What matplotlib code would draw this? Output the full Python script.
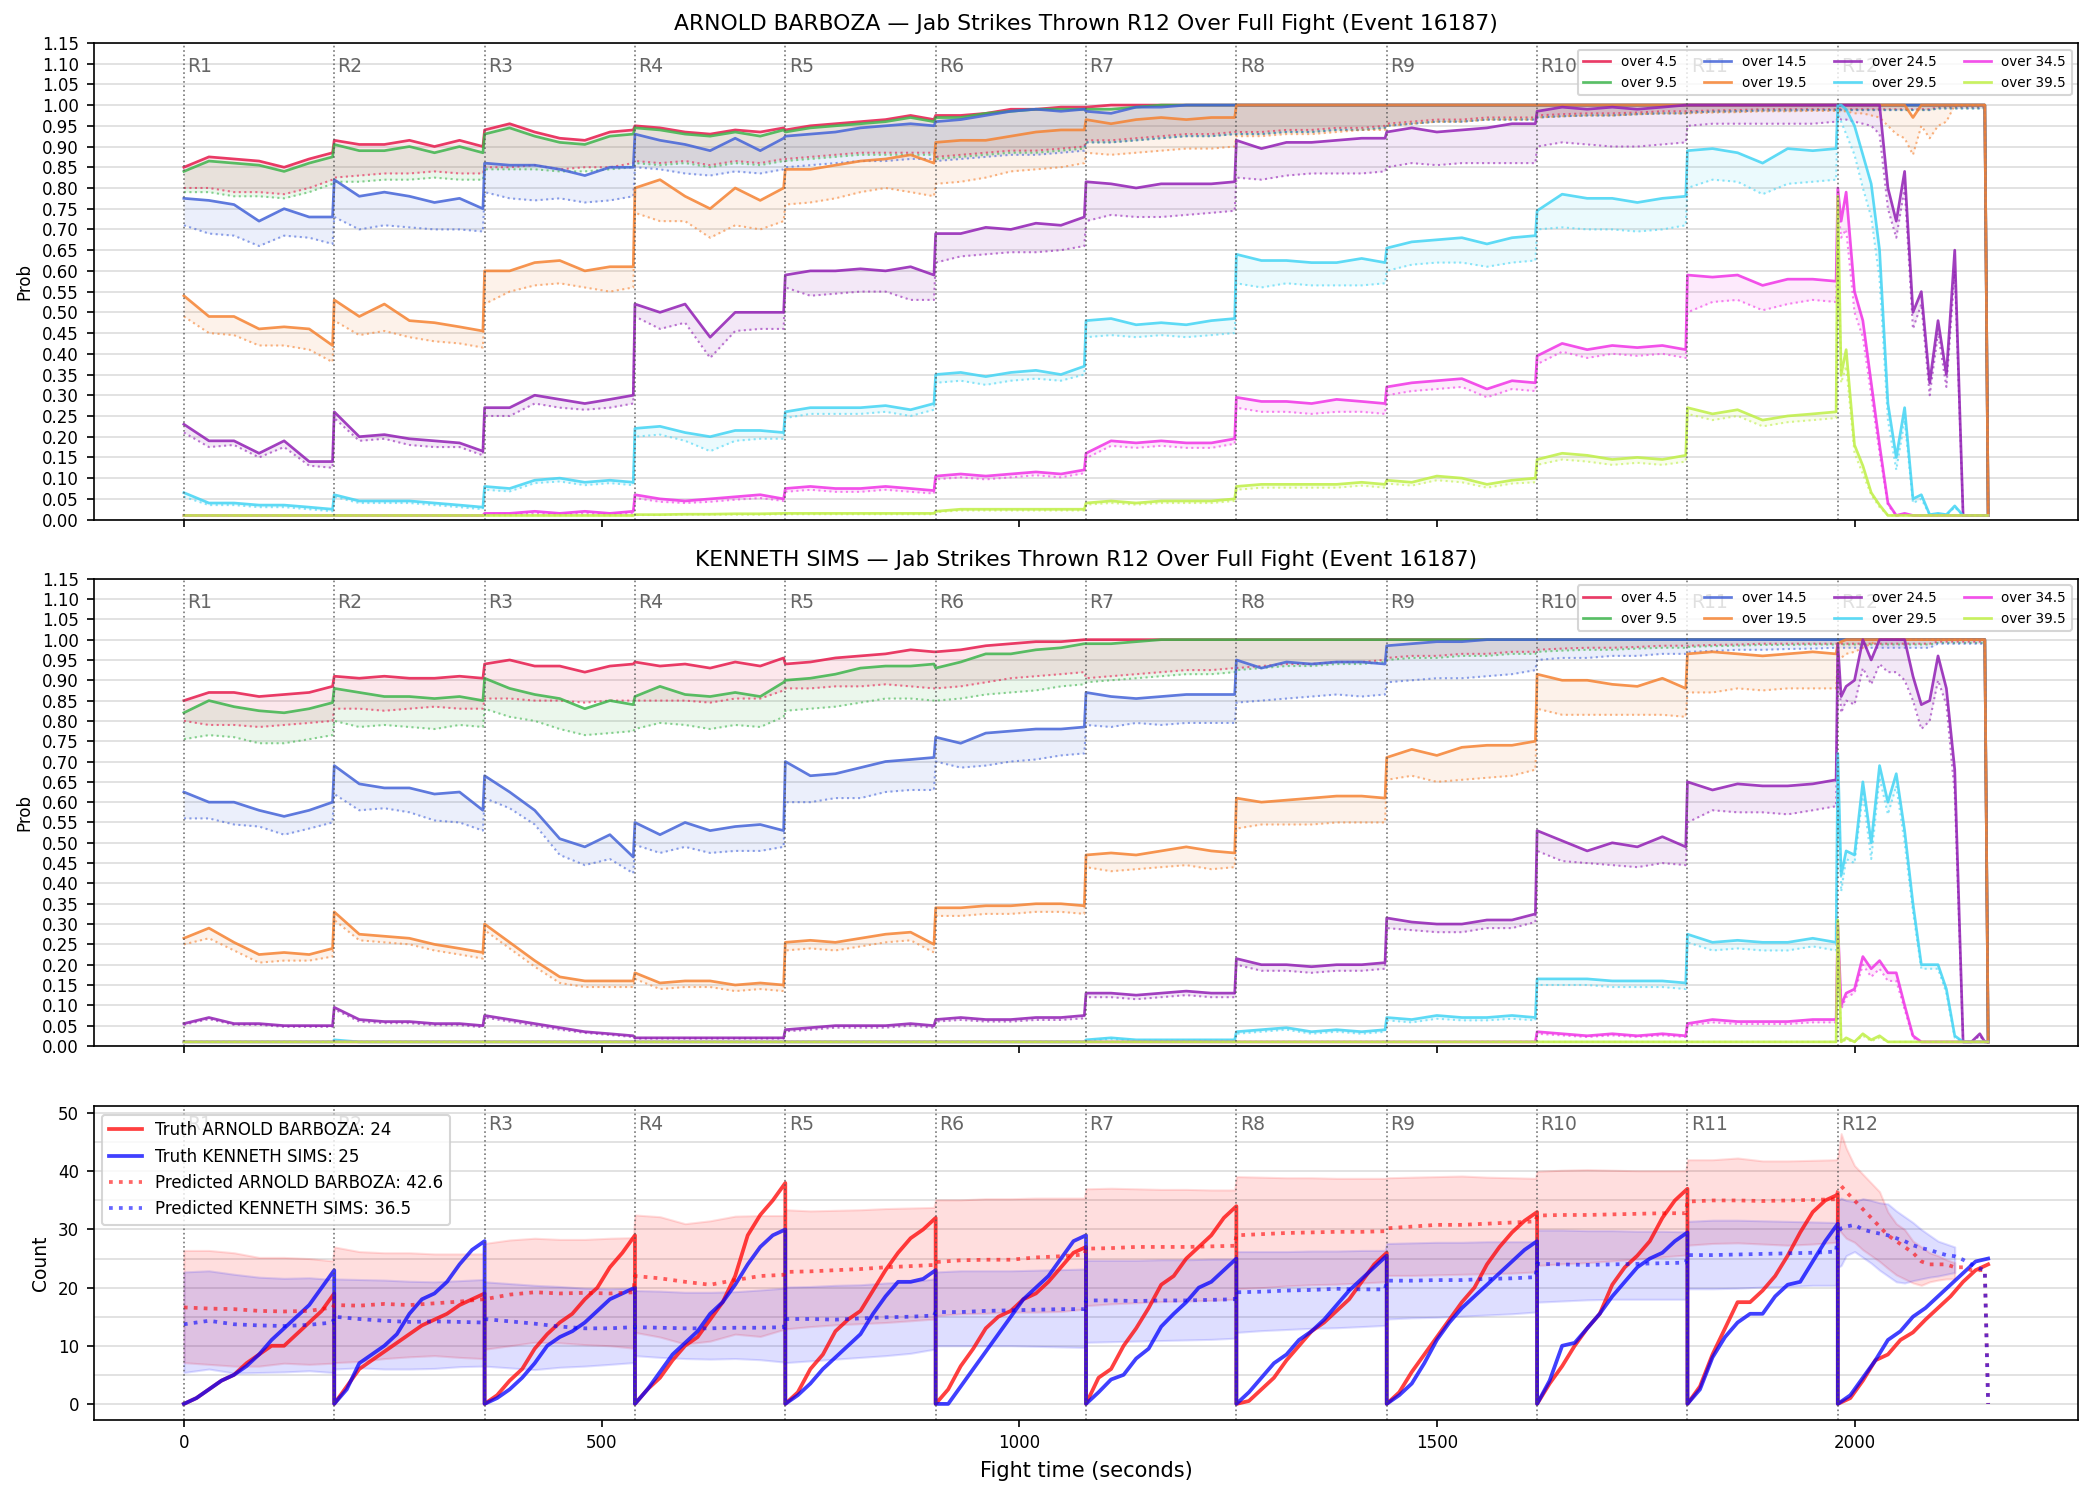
import numpy as np
import matplotlib
matplotlib.use("Agg")
import matplotlib.pyplot as plt
from matplotlib.ticker import MultipleLocator, FormatStrFormatter

# ---------------- time grids ----------------
ROUND_LEN = 180
N_ROUNDS = 12
ROUND_OFFSETS = [0, 30, 60, 90, 120, 150, 178]                # rounds 1-11
R12_OFFSETS = [0, 4, 10, 20, 30, 40, 50, 60, 70, 80, 90, 100, 110,
               120, 130, 140, 150, 160, 170, 176, 180]         # round 12
TRUTH_OFFSETS = [0, 15, 30, 45, 60, 75, 90, 105, 120, 135, 150, 165, 180]

THRESH_LABELS = ["over 4.5", "over 9.5", "over 14.5", "over 19.5",
                 "over 24.5", "over 29.5", "over 34.5", "over 39.5"]
THRESH_COLORS = ["#e6194b", "#3cb44b", "#4363d8", "#f58231",
                 "#911eb4", "#42d4f4", "#f032e6", "#bfef45"]

FIGHTER_A = "ARNOLD BARBOZA"
FIGHTER_B = "KENNETH SIMS"
EVENT_ID = 16187
TRUTH_A_FINAL = 24
TRUTH_B_FINAL = 25
PRED_A_FINAL = 42.6
PRED_B_FINAL = 36.5

ONE = [1.0] * 7
LOW = [0.01] * 7

# ---------------- ARNOLD BARBOZA: P(over) solid / dotted ----------------
ab_o45 = ([0.85, 0.875, 0.87, 0.865, 0.85, 0.87, 0.885,
           0.915, 0.905, 0.905, 0.915, 0.90, 0.915, 0.90,
           0.94, 0.955, 0.935, 0.92, 0.915, 0.935, 0.94,
           0.95, 0.945, 0.935, 0.93, 0.94, 0.935, 0.945,
           0.94, 0.95, 0.955, 0.96, 0.965, 0.975, 0.965,
           0.975, 0.975, 0.98, 0.99, 0.99, 0.995, 0.995,
           0.995, 1.0, 1.0, 1.0, 1.0, 1.0, 1.0]
          + ONE * 4 + [1.0] * 20 + [0.01])
ab_o45_d = [0.80, 0.80, 0.79, 0.79, 0.785, 0.80, 0.82,
            0.825, 0.83, 0.835, 0.835, 0.84, 0.835, 0.835,
            0.85, 0.85, 0.855, 0.845, 0.85, 0.85, 0.86,
            0.865, 0.86, 0.865, 0.855, 0.865, 0.86, 0.87,
            0.87, 0.875, 0.88, 0.885, 0.885, 0.885, 0.885,
            0.875, 0.88, 0.885, 0.89, 0.89, 0.895, 0.90,
            0.915, 0.915, 0.92, 0.925, 0.93, 0.93, 0.935,
            0.935, 0.935, 0.94, 0.94, 0.945, 0.945, 0.95,
            0.955, 0.96, 0.965, 0.965, 0.97, 0.97, 0.97,
            0.975, 0.978, 0.98, 0.98, 0.982, 0.985, 0.985,
            0.985, 0.987, 0.988, 0.99, 0.99, 0.99, 0.99] + [0.99] * 13 + [0.995] * 7 + [0.01]

ab_o95 = ([0.84, 0.865, 0.86, 0.855, 0.84, 0.86, 0.875,
           0.905, 0.89, 0.89, 0.90, 0.885, 0.90, 0.885,
           0.93, 0.945, 0.925, 0.91, 0.905, 0.925, 0.93,
           0.945, 0.94, 0.93, 0.925, 0.935, 0.925, 0.94,
           0.935, 0.945, 0.95, 0.955, 0.96, 0.97, 0.96,
           0.97, 0.97, 0.98, 0.985, 0.99, 0.99, 0.99,
           0.99, 0.99, 0.995, 1.0, 1.0, 1.0, 1.0]
          + ONE * 4 + [1.0] * 20 + [0.01])
ab_o95_d = [0.79, 0.79, 0.78, 0.78, 0.775, 0.79, 0.81,
            0.815, 0.815, 0.82, 0.82, 0.825, 0.82, 0.82,
            0.845, 0.845, 0.845, 0.84, 0.84, 0.845, 0.85,
            0.86, 0.855, 0.86, 0.85, 0.86, 0.855, 0.865,
            0.865, 0.87, 0.875, 0.88, 0.88, 0.88, 0.88,
            0.87, 0.875, 0.88, 0.885, 0.885, 0.89, 0.895,
            0.91, 0.91, 0.915, 0.92, 0.925, 0.925, 0.93,
            0.93, 0.93, 0.935, 0.935, 0.94, 0.94, 0.945,
            0.95, 0.955, 0.96, 0.96, 0.965, 0.965, 0.965,
            0.97, 0.973, 0.975, 0.975, 0.978, 0.98, 0.98,
            0.982, 0.984, 0.985, 0.987, 0.987, 0.988, 0.988] + [0.988] * 13 + [0.992] * 7 + [0.01]

ab_o145 = ([0.775, 0.77, 0.76, 0.72, 0.75, 0.73, 0.73,
            0.82, 0.78, 0.79, 0.78, 0.765, 0.775, 0.75,
            0.86, 0.855, 0.855, 0.845, 0.83, 0.85, 0.85,
            0.93, 0.915, 0.905, 0.89, 0.92, 0.89, 0.92,
            0.925, 0.93, 0.935, 0.945, 0.95, 0.955, 0.95,
            0.96, 0.965, 0.975, 0.985, 0.99, 0.985, 0.99,
            0.985, 0.98, 0.995, 0.995, 1.0, 1.0, 1.0]
           + ONE * 4 + [1.0] * 20 + [0.01])
ab_o145_d = [0.71, 0.69, 0.685, 0.66, 0.685, 0.68, 0.665,
             0.73, 0.70, 0.71, 0.705, 0.70, 0.70, 0.695,
             0.79, 0.775, 0.77, 0.775, 0.765, 0.77, 0.78,
             0.85, 0.845, 0.835, 0.83, 0.84, 0.835, 0.845,
             0.85, 0.855, 0.86, 0.865, 0.865, 0.87, 0.87,
             0.865, 0.87, 0.875, 0.88, 0.88, 0.885, 0.89,
             0.91, 0.91, 0.915, 0.92, 0.925, 0.925, 0.93,
             0.93, 0.93, 0.935, 0.935, 0.94, 0.94, 0.945,
             0.95, 0.955, 0.96, 0.96, 0.965, 0.965, 0.965,
             0.97, 0.973, 0.975, 0.975, 0.978, 0.98, 0.98,
             0.982, 0.984, 0.985, 0.987, 0.987, 0.988, 0.988] + [0.988] * 13 + [0.992] * 7 + [0.01]

ab_o195 = ([0.54, 0.49, 0.49, 0.46, 0.465, 0.46, 0.42,
            0.53, 0.49, 0.52, 0.48, 0.475, 0.465, 0.455,
            0.60, 0.60, 0.62, 0.625, 0.60, 0.61, 0.61,
            0.80, 0.82, 0.78, 0.75, 0.80, 0.77, 0.80,
            0.845, 0.845, 0.855, 0.865, 0.87, 0.88, 0.86,
            0.91, 0.915, 0.915, 0.925, 0.935, 0.94, 0.94,
            0.965, 0.955, 0.965, 0.97, 0.965, 0.97, 0.97]
           + ONE * 4 + [1.0] * 10 + [0.97] + [1.0] * 9 + [0.01])
ab_o195_d = [0.49, 0.45, 0.445, 0.42, 0.42, 0.41, 0.38,
             0.48, 0.445, 0.455, 0.44, 0.43, 0.425, 0.415,
             0.52, 0.55, 0.565, 0.57, 0.56, 0.55, 0.56,
             0.74, 0.72, 0.72, 0.68, 0.71, 0.70, 0.72,
             0.76, 0.765, 0.775, 0.79, 0.80, 0.79, 0.78,
             0.81, 0.815, 0.825, 0.84, 0.845, 0.85, 0.86,
             0.885, 0.88, 0.885, 0.89, 0.895, 0.895, 0.90,
             0.925, 0.925, 0.93, 0.93, 0.935, 0.94, 0.94,
             0.95, 0.955, 0.96, 0.96, 0.965, 0.965, 0.965,
             0.97, 0.973, 0.975, 0.975, 0.978, 0.98, 0.98,
             0.98, 0.982, 0.983, 0.985, 0.985, 0.986, 0.986,
             0.985, 0.985, 0.985, 0.98, 0.98, 0.975, 0.97, 0.95, 0.93, 0.92,
             0.88, 0.95, 0.92, 0.95, 0.96, 1.0, 1.0, 1.0, 1.0, 1.0, 0.01]

ab_o245 = [0.23, 0.19, 0.19, 0.16, 0.19, 0.14, 0.14,
           0.26, 0.20, 0.205, 0.195, 0.19, 0.185, 0.165,
           0.27, 0.27, 0.30, 0.29, 0.28, 0.29, 0.30,
           0.52, 0.50, 0.52, 0.44, 0.50, 0.50, 0.50,
           0.59, 0.60, 0.60, 0.605, 0.60, 0.61, 0.59,
           0.69, 0.69, 0.705, 0.70, 0.715, 0.71, 0.73,
           0.815, 0.81, 0.80, 0.81, 0.81, 0.81, 0.815,
           0.915, 0.895, 0.91, 0.91, 0.915, 0.92, 0.92,
           0.935, 0.945, 0.935, 0.94, 0.945, 0.955, 0.955,
           0.985, 0.995, 0.99, 0.995, 0.99, 0.995, 1.0,
           1.0, 1.0, 1.0, 1.0, 1.0, 1.0, 1.0,
           1.0, 1.0, 1.0, 1.0, 1.0, 1.0, 1.0, 0.80, 0.72, 0.84,
           0.50, 0.55, 0.33, 0.48, 0.35, 0.65, 0.01, 0.01, 0.01, 0.01, 0.01]
ab_o245_d = [0.21, 0.175, 0.18, 0.15, 0.175, 0.13, 0.125,
             0.245, 0.19, 0.195, 0.18, 0.175, 0.175, 0.155,
             0.25, 0.25, 0.28, 0.27, 0.265, 0.27, 0.28,
             0.49, 0.46, 0.475, 0.39, 0.455, 0.46, 0.46,
             0.56, 0.54, 0.545, 0.55, 0.55, 0.53, 0.53,
             0.62, 0.635, 0.64, 0.645, 0.645, 0.65, 0.66,
             0.72, 0.735, 0.73, 0.73, 0.735, 0.74, 0.745,
             0.825, 0.82, 0.83, 0.835, 0.835, 0.835, 0.84,
             0.85, 0.86, 0.855, 0.86, 0.86, 0.86, 0.86,
             0.90, 0.91, 0.905, 0.90, 0.90, 0.905, 0.91,
             0.95, 0.955, 0.955, 0.955, 0.955, 0.955, 0.96,
             0.97, 0.965, 0.965, 0.96, 0.955, 0.95, 0.93, 0.75, 0.68, 0.80,
             0.46, 0.52, 0.30, 0.45, 0.32, 0.60, 0.01, 0.01, 0.01, 0.01, 0.01]

ab_o295 = [0.065, 0.04, 0.04, 0.035, 0.035, 0.03, 0.025,
           0.06, 0.045, 0.045, 0.045, 0.04, 0.035, 0.03,
           0.08, 0.075, 0.095, 0.10, 0.09, 0.095, 0.09,
           0.22, 0.225, 0.21, 0.20, 0.215, 0.215, 0.21,
           0.26, 0.27, 0.27, 0.27, 0.275, 0.265, 0.28,
           0.35, 0.355, 0.345, 0.355, 0.36, 0.35, 0.37,
           0.48, 0.485, 0.47, 0.475, 0.47, 0.48, 0.485,
           0.64, 0.625, 0.625, 0.62, 0.62, 0.63, 0.62,
           0.655, 0.67, 0.675, 0.68, 0.665, 0.68, 0.685,
           0.745, 0.785, 0.775, 0.775, 0.765, 0.775, 0.78,
           0.89, 0.895, 0.885, 0.86, 0.895, 0.89, 0.895,
           1.0, 1.0, 0.99, 0.95, 0.88, 0.81, 0.65, 0.28, 0.15, 0.27,
           0.05, 0.06, 0.012, 0.015, 0.012, 0.033, 0.01, 0.01, 0.01, 0.01, 0.01]
ab_o295_d = [0.055, 0.035, 0.035, 0.03, 0.03, 0.025, 0.02,
             0.055, 0.04, 0.04, 0.04, 0.035, 0.03, 0.025,
             0.072, 0.068, 0.088, 0.092, 0.083, 0.088, 0.083,
             0.20, 0.205, 0.19, 0.165, 0.19, 0.195, 0.195,
             0.245, 0.255, 0.255, 0.255, 0.26, 0.25, 0.265,
             0.33, 0.335, 0.325, 0.335, 0.34, 0.335, 0.35,
             0.44, 0.445, 0.44, 0.445, 0.44, 0.445, 0.45,
             0.57, 0.56, 0.57, 0.565, 0.565, 0.565, 0.57,
             0.60, 0.615, 0.62, 0.62, 0.61, 0.62, 0.625,
             0.70, 0.705, 0.70, 0.70, 0.695, 0.70, 0.71,
             0.80, 0.82, 0.815, 0.785, 0.81, 0.815, 0.82,
             0.98, 0.96, 0.93, 0.88, 0.80, 0.73, 0.58, 0.24, 0.12, 0.24,
             0.04, 0.05, 0.011, 0.013, 0.011, 0.03, 0.01, 0.01, 0.01, 0.01, 0.01]

ab_o345 = (LOW * 2 +
           [0.015, 0.015, 0.02, 0.015, 0.02, 0.015, 0.02,
            0.06, 0.05, 0.045, 0.05, 0.055, 0.06, 0.05,
            0.075, 0.08, 0.075, 0.075, 0.08, 0.075, 0.07,
            0.105, 0.11, 0.105, 0.11, 0.115, 0.11, 0.12,
            0.16, 0.19, 0.185, 0.19, 0.185, 0.185, 0.195,
            0.295, 0.285, 0.285, 0.28, 0.29, 0.285, 0.28,
            0.32, 0.33, 0.335, 0.34, 0.315, 0.335, 0.33,
            0.395, 0.425, 0.41, 0.42, 0.415, 0.42, 0.41,
            0.59, 0.585, 0.59, 0.565, 0.58, 0.58, 0.575,
            0.80, 0.72, 0.79, 0.55, 0.48, 0.33, 0.18, 0.04, 0.01, 0.015]
           + [0.01] * 11)
ab_o345_d = (LOW * 2 +
             [0.012, 0.012, 0.015, 0.012, 0.015, 0.012, 0.015,
              0.052, 0.043, 0.04, 0.043, 0.048, 0.052, 0.045,
              0.067, 0.072, 0.067, 0.067, 0.072, 0.067, 0.063,
              0.097, 0.102, 0.097, 0.102, 0.107, 0.102, 0.112,
              0.148, 0.178, 0.173, 0.178, 0.173, 0.173, 0.183,
              0.27, 0.26, 0.26, 0.255, 0.26, 0.26, 0.255,
              0.30, 0.31, 0.315, 0.32, 0.295, 0.315, 0.31,
              0.375, 0.405, 0.39, 0.40, 0.395, 0.40, 0.39,
              0.50, 0.525, 0.53, 0.505, 0.52, 0.53, 0.525,
              0.76, 0.68, 0.70, 0.50, 0.44, 0.30, 0.16, 0.035, 0.01, 0.012]
             + [0.01] * 11)

ab_o395 = (LOW * 3 +
           [0.012, 0.012, 0.013, 0.013, 0.014, 0.014, 0.015,
            0.015, 0.015, 0.015, 0.015, 0.015, 0.015, 0.015,
            0.02, 0.025, 0.025, 0.025, 0.025, 0.025, 0.025,
            0.04, 0.045, 0.04, 0.045, 0.045, 0.045, 0.05,
            0.08, 0.085, 0.085, 0.085, 0.085, 0.09, 0.085,
            0.095, 0.09, 0.105, 0.10, 0.085, 0.095, 0.10,
            0.145, 0.16, 0.155, 0.145, 0.15, 0.145, 0.155,
            0.27, 0.255, 0.265, 0.24, 0.25, 0.255, 0.26,
            0.78, 0.35, 0.41, 0.18, 0.13, 0.065, 0.035, 0.01]
           + [0.01] * 13)
ab_o395_d = (LOW * 3 +
             [0.011, 0.011, 0.012, 0.012, 0.012, 0.012, 0.013,
              0.013, 0.013, 0.013, 0.013, 0.013, 0.013, 0.013,
              0.018, 0.022, 0.022, 0.022, 0.022, 0.022, 0.022,
              0.036, 0.04, 0.036, 0.04, 0.04, 0.04, 0.045,
              0.072, 0.077, 0.077, 0.077, 0.077, 0.082, 0.077,
              0.087, 0.082, 0.095, 0.09, 0.077, 0.087, 0.09,
              0.132, 0.145, 0.14, 0.132, 0.137, 0.132, 0.14,
              0.255, 0.24, 0.25, 0.225, 0.235, 0.24, 0.245,
              0.75, 0.33, 0.37, 0.16, 0.11, 0.06, 0.03, 0.01]
             + [0.01] * 13)

# ---------------- KENNETH SIMS: P(over) solid / dotted ----------------
ks_o45 = ([0.85, 0.87, 0.87, 0.86, 0.865, 0.87, 0.885,
           0.91, 0.905, 0.91, 0.905, 0.905, 0.91, 0.905,
           0.94, 0.95, 0.935, 0.935, 0.92, 0.935, 0.94,
           0.945, 0.935, 0.94, 0.93, 0.945, 0.935, 0.955,
           0.94, 0.945, 0.955, 0.96, 0.965, 0.975, 0.97,
           0.97, 0.975, 0.985, 0.99, 0.995, 0.995, 1.0]
          + ONE * 5 + [1.0] * 20 + [0.01])
ks_o45_d = [0.80, 0.79, 0.79, 0.785, 0.79, 0.795, 0.80,
            0.83, 0.83, 0.825, 0.83, 0.835, 0.83, 0.83,
            0.855, 0.855, 0.85, 0.85, 0.845, 0.85, 0.85,
            0.85, 0.85, 0.85, 0.845, 0.855, 0.855, 0.875,
            0.88, 0.88, 0.885, 0.885, 0.89, 0.885, 0.88,
            0.88, 0.885, 0.895, 0.905, 0.91, 0.915, 0.92,
            0.905, 0.91, 0.915, 0.92, 0.925, 0.925, 0.93,
            0.93, 0.935, 0.94, 0.94, 0.945, 0.945, 0.95,
            0.955, 0.96, 0.96, 0.965, 0.965, 0.97, 0.97,
            0.975, 0.978, 0.98, 0.98, 0.982, 0.985, 0.985,
            0.985, 0.987, 0.988, 0.99, 0.99, 0.99, 0.99] + [0.99] * 13 + [0.995] * 7 + [0.01]

ks_o95 = ([0.82, 0.85, 0.835, 0.825, 0.82, 0.83, 0.845,
           0.88, 0.87, 0.86, 0.86, 0.855, 0.86, 0.85,
           0.905, 0.88, 0.865, 0.855, 0.83, 0.85, 0.84,
           0.86, 0.885, 0.865, 0.86, 0.87, 0.86, 0.895,
           0.90, 0.905, 0.915, 0.93, 0.935, 0.935, 0.94,
           0.93, 0.945, 0.965, 0.965, 0.975, 0.98, 0.99,
           0.99, 0.99, 0.995, 1.0, 1.0, 1.0, 1.0]
          + ONE * 4 + [1.0] * 20 + [0.01])
ks_o95_d = [0.755, 0.765, 0.76, 0.745, 0.745, 0.755, 0.765,
            0.80, 0.785, 0.79, 0.785, 0.78, 0.79, 0.785,
            0.83, 0.81, 0.80, 0.78, 0.765, 0.77, 0.775,
            0.78, 0.795, 0.79, 0.78, 0.79, 0.785, 0.81,
            0.825, 0.83, 0.835, 0.845, 0.855, 0.855, 0.85,
            0.85, 0.855, 0.865, 0.87, 0.875, 0.885, 0.89,
            0.895, 0.90, 0.905, 0.91, 0.915, 0.915, 0.92,
            0.925, 0.93, 0.935, 0.935, 0.94, 0.94, 0.945,
            0.95, 0.955, 0.955, 0.96, 0.96, 0.965, 0.965,
            0.97, 0.973, 0.975, 0.975, 0.978, 0.98, 0.98,
            0.982, 0.984, 0.985, 0.987, 0.987, 0.988, 0.988] + [0.988] * 13 + [0.992] * 7 + [0.01]

ks_o145 = ([0.625, 0.60, 0.60, 0.58, 0.565, 0.58, 0.60,
            0.69, 0.645, 0.635, 0.635, 0.62, 0.625, 0.58,
            0.665, 0.625, 0.58, 0.51, 0.49, 0.52, 0.465,
            0.55, 0.52, 0.55, 0.53, 0.54, 0.545, 0.53,
            0.70, 0.665, 0.67, 0.685, 0.70, 0.705, 0.71,
            0.76, 0.745, 0.77, 0.775, 0.78, 0.78, 0.785,
            0.87, 0.86, 0.855, 0.86, 0.865, 0.865, 0.865,
            0.95, 0.93, 0.945, 0.94, 0.945, 0.945, 0.94,
            0.985, 0.99, 0.995, 0.995, 1.0, 1.0, 1.0]
           + ONE * 2 + [1.0] * 20 + [0.01])
ks_o145_d = [0.56, 0.56, 0.545, 0.54, 0.52, 0.535, 0.55,
             0.62, 0.58, 0.585, 0.575, 0.555, 0.55, 0.53,
             0.61, 0.585, 0.545, 0.47, 0.445, 0.46, 0.425,
             0.495, 0.475, 0.49, 0.475, 0.48, 0.48, 0.49,
             0.60, 0.60, 0.61, 0.61, 0.625, 0.63, 0.63,
             0.70, 0.685, 0.69, 0.70, 0.705, 0.715, 0.72,
             0.79, 0.785, 0.795, 0.79, 0.795, 0.795, 0.795,
             0.845, 0.85, 0.855, 0.86, 0.865, 0.86, 0.865,
             0.895, 0.90, 0.905, 0.905, 0.91, 0.915, 0.925,
             0.95, 0.955, 0.955, 0.96, 0.96, 0.965, 0.965,
             0.97, 0.972, 0.975, 0.975, 0.977, 0.978, 0.98] + [0.98] * 13 + [0.99] * 7 + [0.01]

ks_o195 = [0.265, 0.29, 0.255, 0.225, 0.23, 0.225, 0.24,
           0.33, 0.275, 0.27, 0.265, 0.25, 0.24, 0.23,
           0.30, 0.255, 0.21, 0.17, 0.16, 0.16, 0.16,
           0.18, 0.155, 0.16, 0.16, 0.15, 0.155, 0.15,
           0.255, 0.26, 0.255, 0.265, 0.275, 0.28, 0.25,
           0.34, 0.34, 0.345, 0.345, 0.35, 0.35, 0.345,
           0.47, 0.475, 0.47, 0.48, 0.49, 0.48, 0.475,
           0.61, 0.60, 0.605, 0.61, 0.615, 0.615, 0.61,
           0.71, 0.73, 0.715, 0.735, 0.74, 0.74, 0.75,
           0.915, 0.90, 0.90, 0.89, 0.885, 0.905, 0.88,
           0.965, 0.97, 0.965, 0.96, 0.965, 0.97, 0.965] + [0.99, 0.995] + [1.0] * 18 + [0.01]
ks_o195_d = [0.25, 0.265, 0.235, 0.205, 0.21, 0.21, 0.22,
             0.31, 0.26, 0.255, 0.25, 0.235, 0.225, 0.215,
             0.285, 0.24, 0.195, 0.155, 0.145, 0.145, 0.145,
             0.165, 0.14, 0.145, 0.145, 0.135, 0.14, 0.135,
             0.235, 0.24, 0.235, 0.245, 0.255, 0.26, 0.23,
             0.32, 0.32, 0.325, 0.325, 0.33, 0.33, 0.325,
             0.44, 0.43, 0.435, 0.44, 0.445, 0.435, 0.44,
             0.535, 0.545, 0.545, 0.545, 0.55, 0.55, 0.55,
             0.655, 0.665, 0.65, 0.655, 0.66, 0.665, 0.68,
             0.83, 0.815, 0.815, 0.815, 0.815, 0.815, 0.81,
             0.87, 0.87, 0.88, 0.875, 0.88, 0.88, 0.88] + [0.96, 0.955, 0.965, 0.97, 0.98, 0.99] + [1.0] * 14 + [0.01]

ks_o245 = [0.055, 0.07, 0.055, 0.055, 0.05, 0.05, 0.05,
           0.095, 0.065, 0.06, 0.06, 0.055, 0.055, 0.05,
           0.075, 0.065, 0.055, 0.045, 0.035, 0.03, 0.025,
           0.02, 0.02, 0.02, 0.02, 0.02, 0.02, 0.02,
           0.04, 0.045, 0.05, 0.05, 0.05, 0.055, 0.05,
           0.065, 0.07, 0.065, 0.065, 0.07, 0.07, 0.075,
           0.13, 0.13, 0.125, 0.13, 0.135, 0.13, 0.13,
           0.215, 0.20, 0.20, 0.195, 0.20, 0.20, 0.205,
           0.315, 0.305, 0.30, 0.30, 0.31, 0.31, 0.325,
           0.53, 0.505, 0.48, 0.50, 0.49, 0.515, 0.49,
           0.65, 0.63, 0.645, 0.64, 0.64, 0.645, 0.655,
           0.99, 0.86, 0.885, 0.90, 1.0, 0.95, 1.0, 1.0, 1.0, 1.0,
           0.91, 0.84, 0.85, 0.96, 0.88, 0.68, 0.01, 0.01, 0.03, 0.01, 0.01]
ks_o245_d = [0.052, 0.066, 0.052, 0.052, 0.047, 0.047, 0.047,
             0.09, 0.06, 0.056, 0.056, 0.051, 0.051, 0.046,
             0.07, 0.06, 0.05, 0.04, 0.032, 0.027, 0.022,
             0.018, 0.018, 0.018, 0.018, 0.018, 0.018, 0.018,
             0.036, 0.04, 0.045, 0.045, 0.045, 0.05, 0.045,
             0.06, 0.064, 0.06, 0.06, 0.064, 0.064, 0.068,
             0.12, 0.12, 0.115, 0.12, 0.125, 0.12, 0.12,
             0.20, 0.185, 0.185, 0.18, 0.185, 0.185, 0.19,
             0.29, 0.285, 0.28, 0.28, 0.29, 0.29, 0.305,
             0.48, 0.455, 0.45, 0.445, 0.44, 0.45, 0.445,
             0.55, 0.58, 0.575, 0.575, 0.57, 0.58, 0.59,
             0.97, 0.82, 0.85, 0.84, 0.93, 0.89, 0.94, 0.92, 0.92, 0.90,
             0.85, 0.78, 0.80, 0.90, 0.84, 0.62, 0.01, 0.01, 0.025, 0.01, 0.01]

ks_o295 = (LOW +
           [0.015, 0.01, 0.01, 0.01, 0.01, 0.01, 0.01] +
           LOW * 4 +
           [0.015, 0.02, 0.015, 0.015, 0.015, 0.015, 0.015,
            0.035, 0.04, 0.045, 0.035, 0.04, 0.035, 0.04,
            0.07, 0.065, 0.075, 0.07, 0.07, 0.075, 0.07,
            0.165, 0.165, 0.165, 0.16, 0.16, 0.16, 0.155,
            0.275, 0.255, 0.26, 0.255, 0.255, 0.265, 0.255,
            0.72, 0.42, 0.48, 0.47, 0.65, 0.50, 0.69, 0.60, 0.67, 0.53,
            0.35, 0.20, 0.20, 0.20, 0.14, 0.025, 0.01, 0.01, 0.01, 0.01, 0.01])
ks_o295_d = (LOW +
             [0.013, 0.01, 0.01, 0.01, 0.01, 0.01, 0.01] +
             LOW * 4 +
             [0.013, 0.017, 0.013, 0.013, 0.013, 0.013, 0.013,
              0.03, 0.035, 0.04, 0.03, 0.035, 0.03, 0.035,
              0.063, 0.058, 0.067, 0.063, 0.063, 0.067, 0.063,
              0.15, 0.15, 0.15, 0.145, 0.145, 0.145, 0.14,
              0.255, 0.235, 0.24, 0.235, 0.235, 0.245, 0.235,
              0.70, 0.38, 0.46, 0.45, 0.62, 0.46, 0.66, 0.57, 0.64, 0.50,
              0.33, 0.19, 0.19, 0.19, 0.13, 0.02, 0.01, 0.01, 0.01, 0.01, 0.01])

ks_o345 = (LOW * 9 +
           [0.035, 0.03, 0.025, 0.03, 0.025, 0.03, 0.025,
            0.055, 0.065, 0.06, 0.06, 0.06, 0.065, 0.065,
            0.30, 0.10, 0.13, 0.14, 0.22, 0.19, 0.21, 0.18, 0.18, 0.10, 0.025]
           + [0.01] * 10)
ks_o345_d = (LOW * 9 +
             [0.03, 0.026, 0.022, 0.026, 0.022, 0.026, 0.022,
              0.05, 0.058, 0.054, 0.054, 0.054, 0.058, 0.058,
              0.28, 0.09, 0.12, 0.13, 0.20, 0.17, 0.19, 0.16, 0.16, 0.09, 0.02]
             + [0.01] * 10)

ks_o395 = LOW * 11 + [0.31, 0.01, 0.02, 0.01, 0.03, 0.015, 0.025] + [0.01] * 14
ks_o395_d = LOW * 11 + [0.29, 0.01, 0.015, 0.01, 0.025, 0.012, 0.02] + [0.01] * 14

# ---------------- cumulative counts (truth), per round at TRUTH_OFFSETS ----------------
truth_a = [
    [0, 1, 2.5, 4, 5, 7, 8.5, 10, 10, 12, 14, 16, 19],
    [0, 3, 6, 7.5, 9, 10.5, 12, 13.5, 14.5, 15.5, 17, 18, 19],
    [0, 1.5, 4, 6, 9.5, 12, 14, 15.5, 18, 20, 23.5, 26, 29],
    [0, 2.5, 4.5, 7.5, 10, 11.5, 14.5, 17.5, 22, 29, 32.5, 35, 38],
    [0, 2, 6, 8.5, 12.5, 14.5, 16, 19.5, 23, 26, 28.5, 30, 32],
    [0, 2.5, 6.5, 9.5, 13, 15, 16, 18, 19, 21, 23.5, 26, 27],
    [0, 4.5, 6, 10, 13, 16.5, 20.5, 22, 25, 27, 29, 32, 34],
    [0, 0.5, 2.5, 4.5, 7.5, 10, 12.5, 14, 16, 18, 21, 24, 26],
    [0, 2, 5.5, 8.5, 11.5, 14.5, 17.5, 20, 24, 27, 29.5, 31.5, 33],
    [0, 3.5, 6.5, 10, 13, 15.5, 20.5, 23.5, 25.5, 28, 32, 35, 37],
    [0, 3, 8.5, 13, 17.5, 17.5, 19.5, 22, 25.5, 29.5, 33, 35, 36],
    [0, 1, 4, 7.5, 8.5, 11, 12.3, 14.5, 16.5, 18.5, 21, 23, 24],
]
truth_b = [
    [0, 1, 2.5, 4, 5, 6.5, 8.5, 11, 13, 15, 17, 20, 23],
    [0, 2.5, 7, 8.5, 10, 12, 15.5, 18, 19, 21, 24, 26.5, 28],
    [0, 1, 2.5, 4.5, 7, 10, 11.5, 12.5, 14, 16, 18, 19, 20],
    [0, 2.5, 5.5, 8.5, 10.5, 12.5, 15.5, 17.5, 20.5, 24, 27, 29, 30],
    [0, 1.5, 3.5, 6, 8, 10, 12, 15.5, 18.5, 21, 21, 21.5, 23],
    [0, 0, 3, 6, 9, 12, 15, 18, 20, 22, 25, 28, 29],
    [0, 2, 4.2, 5, 7.8, 9.5, 13.3, 15.5, 17.5, 20, 21, 23, 25],
    [0, 2, 4.5, 7, 8.5, 11, 12.5, 14.5, 17, 19.5, 21.5, 23.5, 25.5],
    [0, 1.5, 3.5, 7, 11, 14, 16.5, 18.5, 20.5, 22.5, 24.5, 26.5, 28],
    [0, 4, 10, 10.5, 13, 15.5, 18.5, 21, 23.5, 25, 26, 28, 29.5],
    [0, 2.5, 8, 11.5, 14, 15.5, 15.5, 18.5, 20.5, 21, 24.5, 28, 31],
    [0, 1.5, 4.5, 7.5, 11, 12.5, 15, 16.5, 18.5, 20.5, 22.5, 24.5, 25],
]

# ---------------- predicted totals and bands (same grid as probabilities) ----------------
nan = float("nan")
pred_a = [16.6, 16.4, 16.3, 16.0, 15.9, 16.0, 16.6,
          17.0, 16.9, 17.2, 17.0, 17.3, 17.6, 18.0,
          18.0, 18.8, 19.2, 19.0, 19.1, 19.0, 19.2,
          22.0, 21.6, 21.0, 20.5, 21.3, 22.0, 22.2,
          22.7, 22.8, 23.0, 23.2, 23.5, 23.7, 23.9,
          24.4, 24.7, 24.8, 24.8, 25.2, 25.4, 25.7,
          26.7, 26.8, 27.0, 27.0, 27.0, 27.1, 27.2,
          29.0, 29.2, 29.4, 29.5, 29.6, 29.6, 29.7,
          30.2, 30.5, 30.8, 30.8, 31.0, 31.2, 31.4,
          32.4, 32.5, 32.5, 32.6, 32.7, 32.8, 32.8,
          34.8, 35.0, 35.0, 34.9, 35.0, 35.1, 35.2,
          36.5, 37.5, 36.5, 35.0, 33.5, 32.0, 30.5, 29.0, 28.0, 27.0,
          26.0, 24.5, 24.0, 24.0, 24.0, 23.5, 23.5, 23.0, 23.0, 23.0, 0.0]
pred_b = [13.7, 14.3, 13.7, 13.5, 13.4, 13.6, 14.0,
          15.0, 14.6, 14.3, 14.1, 14.2, 14.1, 14.0,
          14.6, 14.2, 13.8, 13.3, 13.0, 13.0, 13.2,
          13.2, 13.1, 13.0, 13.0, 13.1, 13.1, 13.2,
          14.6, 14.6, 14.5, 14.7, 14.9, 15.0, 15.2,
          15.8, 15.8, 16.0, 16.1, 16.2, 16.3, 16.3,
          17.8, 17.8, 17.7, 17.8, 17.8, 17.9, 18.0,
          19.2, 19.3, 19.5, 19.6, 19.8, 19.7, 19.7,
          21.2, 21.2, 21.3, 21.3, 21.5, 21.6, 21.8,
          24.1, 24.0, 23.9, 24.0, 24.1, 24.2, 24.3,
          25.6, 25.6, 25.7, 25.8, 25.9, 26.0, 26.2,
          29.5, 30.2, 30.5, 30.8, 30.0, 29.6, 29.3, 29.0, 28.5, 28.0,
          27.3, 26.8, 26.5, 26.0, 25.6, 25.4, 24.8, 24.0, 23.3, 23.0, 0.0]
band_a_hi = [26.4, 26.4, 26.0, 25.2, 25.2, 25.0, 24.6,
             27.0, 26.2, 26.0, 26.0, 25.8, 25.8, 25.8,
             27.6, 28.2, 28.5, 28.3, 28.3, 28.5, 28.6,
             32.5, 32.2, 31.0, 31.5, 32.3, 32.4, 32.4,
             33.4, 33.2, 33.3, 33.4, 33.6, 33.7, 33.8,
             35.1, 35.1, 35.3, 35.3, 35.4, 35.4, 35.4,
             37.0, 37.1, 37.0, 36.9, 36.9, 36.8, 36.8,
             39.1, 39.0, 38.9, 38.9, 38.8, 38.8, 38.8,
             38.9, 39.0, 39.1, 39.2, 39.0, 38.9, 38.8,
             40.0, 40.2, 40.3, 40.2, 40.1, 40.1, 40.1,
             42.0, 42.0, 42.3, 41.8, 41.8, 41.9, 42.0,
             42.5, 46.5, 44.0, 41.0, 39.5, 38.0, 36.5, 33.0, 31.0, 30.0,
             28.0, 27.0, 26.0, 25.5, 24.8, 24.3, nan, nan, nan, nan, nan]
band_a_lo = [7.1, 6.8, 6.5, 6.5, 7.0, 6.8, 7.0,
             7.1, 7.3, 7.8, 8.1, 8.3, 8.0, 7.8,
             9.4, 10.0, 10.6, 10.5, 10.2, 10.0, 9.6,
             12.3, 11.5, 10.3, 10.8, 12.0, 11.6, 12.8,
             12.9, 13.3, 13.6, 13.8, 14.0, 14.3, 14.6,
             15.2, 15.5, 15.6, 15.8, 15.8, 15.9, 16.3,
             16.9, 17.2, 17.4, 17.6, 17.7, 17.8, 18.0,
             19.8, 20.0, 20.3, 20.5, 20.6, 20.8, 21.0,
             22.1, 22.1, 22.2, 22.3, 22.4, 22.5, 22.7,
             23.8, 24.1, 24.3, 24.6, 24.9, 25.3, 25.6,
             27.3, 27.6, 27.7, 27.5, 27.3, 27.5, 27.8,
             30.2, 29.5, 28.5, 27.8, 26.5, 25.5, 24.5, 23.3, 22.2, 21.5,
             20.8, 20.4, 21.0, 21.3, 21.5, 21.5, nan, nan, nan, nan, nan]
band_b_hi = [22.7, 22.9, 22.3, 21.8, 21.6, 21.7, 21.4,
             21.5, 21.4, 21.3, 21.1, 21.0, 21.2, 21.4,
             21.0, 20.7, 20.4, 20.2, 19.9, 19.8, 19.9,
             19.5, 19.4, 19.2, 19.2, 19.3, 19.6, 19.9,
             20.1, 20.2, 20.4, 20.5, 20.8, 21.0, 21.5,
             22.7, 22.9, 22.9, 22.9, 23.0, 23.1, 23.2,
             24.7, 24.7, 24.7, 24.8, 24.8, 24.9, 24.9,
             26.2, 26.2, 26.2, 26.3, 26.3, 26.4, 26.4,
             27.6, 27.7, 27.8, 27.8, 27.9, 27.9, 27.9,
             29.9, 29.9, 29.8, 29.8, 29.7, 29.7, 29.6,
             31.4, 31.6, 31.6, 31.5, 31.4, 31.3, 31.2,
             35.0, 35.4, 35.0, 34.8, 35.3, 35.0, 34.6, 34.4, 33.2, 32.2,
             31.2, 30.0, 29.0, 28.0, 27.5, 27.0, nan, nan, nan, nan, nan]
band_b_lo = [5.4, 6.0, 5.3, 5.4, 5.5, 5.7, 5.4,
             6.0, 6.2, 6.0, 6.0, 6.1, 6.4, 6.5,
             6.5, 6.2, 5.9, 6.3, 6.5, 6.8, 7.1,
             8.3, 8.0, 7.8, 7.7, 7.8, 7.6, 7.2,
             7.1, 7.4, 7.7, 8.0, 8.3, 8.7, 9.4,
             10.0, 10.0, 10.0, 10.0, 9.9, 9.8, 9.7,
             10.6, 10.7, 10.8, 10.9, 11.0, 11.1, 11.3,
             12.3, 12.6, 12.8, 13.0, 13.1, 13.3, 13.5,
             14.6, 14.8, 14.9, 15.1, 15.3, 15.5, 15.8,
             17.5, 17.7, 17.9, 18.0, 18.0, 18.0, 18.0,
             19.8, 19.8, 19.9, 20.1, 20.2, 20.4, 20.4,
             23.5, 23.8, 25.5, 26.2, 25.2, 24.2, 23.0, 22.0, 21.0, 20.8,
             21.2, 21.5, 21.8, 22.0, 22.3, 22.6, nan, nan, nan, nan, nan]

# ---------------- build x arrays ----------------
t = np.array([r * ROUND_LEN + o for r in range(N_ROUNDS - 1) for o in ROUND_OFFSETS]
             + [(N_ROUNDS - 1) * ROUND_LEN + o for o in R12_OFFSETS], dtype=float)
t_truth = np.array([r * ROUND_LEN + o for r in range(N_ROUNDS) for o in TRUTH_OFFSETS], dtype=float)
round_starts = [r * ROUND_LEN for r in range(N_ROUNDS)]

ab_series = [(ab_o45, ab_o45_d), (ab_o95, ab_o95_d), (ab_o145, ab_o145_d), (ab_o195, ab_o195_d),
             (ab_o245, ab_o245_d), (ab_o295, ab_o295_d), (ab_o345, ab_o345_d), (ab_o395, ab_o395_d)]
ks_series = [(ks_o45, ks_o45_d), (ks_o95, ks_o95_d), (ks_o145, ks_o145_d), (ks_o195, ks_o195_d),
             (ks_o245, ks_o245_d), (ks_o295, ks_o295_d), (ks_o345, ks_o345_d), (ks_o395, ks_o395_d)]

plt.rcParams["font.family"] = ["DejaVu Sans"]
fig = plt.figure(figsize=(14, 10), dpi=150)
ax1 = fig.add_axes([0.0446, 0.6536, 0.9451, 0.3178])
ax2 = fig.add_axes([0.0446, 0.3027, 0.9451, 0.3115], sharex=ax1)
ax3 = fig.add_axes([0.0446, 0.0536, 0.9451, 0.2089], sharex=ax1)


def draw_prob(ax, series, fighter):
    for (sol, dot), lab, col in zip(series, THRESH_LABELS, THRESH_COLORS):
        sol = np.array(sol, dtype=float)
        dot = np.array(dot, dtype=float)
        ax.fill_between(t, dot, sol, color=col, alpha=0.1, linewidth=0)
        ax.plot(t, dot, color=col, lw=1.0, ls=":", alpha=0.6)
        ax.plot(t, sol, color=col, lw=1.3, alpha=0.85, label=lab)
    ax.set_ylim(0, 1.15)
    ax.yaxis.set_major_locator(MultipleLocator(0.05))
    ax.yaxis.set_major_formatter(FormatStrFormatter("%.2f"))
    ax.grid(axis="y", color="#dddddd", lw=0.8)
    ax.set_axisbelow(True)
    ax.set_ylabel("Prob", fontsize=8)
    ax.tick_params(labelsize=8)
    ax.set_title(f"{fighter} — Jab Strikes Thrown R12 Over Full Fight (Event {EVENT_ID})", fontsize=10.5)
    for i, rs in enumerate(round_starts):
        ax.axvline(rs, color="#555555", ls=":", lw=0.8, alpha=0.8)
        ax.text(rs + 4, 1.15 * 0.97, f"R{i + 1}", va="top", ha="left", fontsize=9,
                color="#555555", alpha=0.9)
    ax.legend(loc="upper right", ncol=4, fontsize=6.5, framealpha=0.8)
    plt.setp(ax.get_xticklabels(), visible=False)


draw_prob(ax1, ab_series, FIGHTER_A)
draw_prob(ax2, ks_series, FIGHTER_B)

# bottom panel
ax3.fill_between(t, np.array(band_a_lo), np.array(band_a_hi), color="red", alpha=0.13)
ax3.fill_between(t, np.array(band_b_lo), np.array(band_b_hi), color="blue", alpha=0.13)
ax3.plot(t_truth, np.concatenate(truth_a), color="red", lw=1.8, alpha=0.75,
         label=f"Truth {FIGHTER_A}: {TRUTH_A_FINAL}")
ax3.plot(t_truth, np.concatenate(truth_b), color="blue", lw=1.8, alpha=0.75,
         label=f"Truth {FIGHTER_B}: {TRUTH_B_FINAL}")
ax3.plot(t, pred_a, color="red", lw=1.8, ls=":", alpha=0.6,
         label=f"Predicted {FIGHTER_A}: {PRED_A_FINAL}")
ax3.plot(t, pred_b, color="blue", lw=1.8, ls=":", alpha=0.6,
         label=f"Predicted {FIGHTER_B}: {PRED_B_FINAL}")
ax3.set_ylim(-2.7, 51.2)
ax3.yaxis.set_major_locator(MultipleLocator(10))
ax3.yaxis.set_minor_locator(MultipleLocator(5))
ax3.tick_params(axis="y", which="minor", length=0)
ax3.grid(axis="y", which="both", color="#dddddd", lw=0.8)
ax3.set_axisbelow(True)
ax3.tick_params(labelsize=8)
ax3.set_ylabel("Count", fontsize=9)
ax3.set_xlabel("Fight time (seconds)", fontsize=10)
for i, rs in enumerate(round_starts):
    ax3.axvline(rs, color="#555555", ls=":", lw=0.8, alpha=0.8)
    ax3.text(rs + 4, 51.2 * 0.97, f"R{i + 1}", va="top", ha="left", fontsize=9,
             color="#555555", alpha=0.9)
ax3.legend(loc="upper left", fontsize=8, framealpha=0.8)

ax1.set_xlim(-108, 2268)
ax1.xaxis.set_major_locator(MultipleLocator(500))

fig.savefig("out.png", dpi=150)
